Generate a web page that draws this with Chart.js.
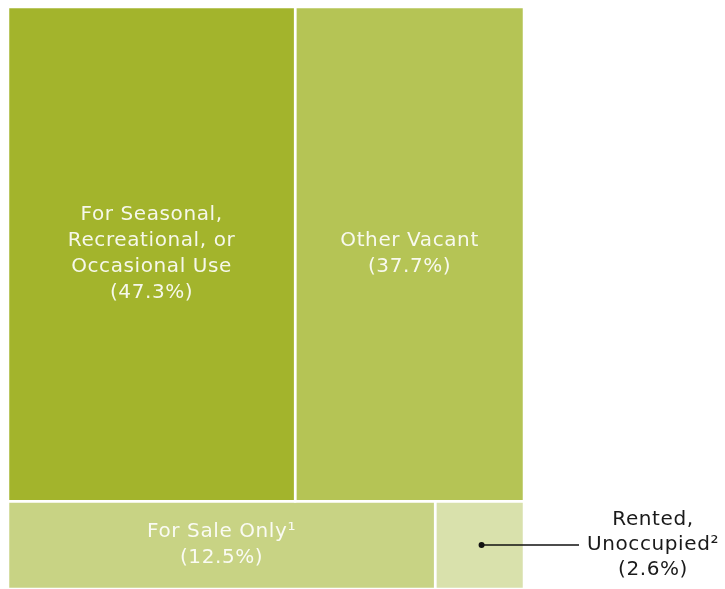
<!DOCTYPE html>
<html>
<head>
<meta charset="utf-8">
<script src="https://cdn.jsdelivr.net/npm/chart.js@4/dist/chart.umd.min.js"></script>
<style>
  body { margin: 0; background: #fff; }
  #wrap { width: 725px; height: 589px; }
</style>
</head>
<body>
<div id="wrap"><canvas id="treeChart" width="725" height="589"></canvas></div>
<script>
// Vacant housing units by status (share of total, %)
const categories = ['For Seasonal, Recreational, or Occasional Use', 'Other Vacant', 'For Sale Only¹', 'Rented, Unoccupied²'];
const shares = [47.3, 37.7, 12.5, 2.6];
const rowOf = [0, 0, 1, 1];   // which band of the treemap each cell sits in
const labelLines = [
  ['For Seasonal,', 'Recreational, or', 'Occasional Use', '(47.3%)'],
  ['Other Vacant', '(37.7%)'],
  ['For Sale Only¹', '(12.5%)'],
  ['Rented,', 'Unoccupied²', '(2.6%)']
];
const colors = ['#a3b42c', '#b5c455', '#c8d384', '#d9e1ac'];

// simple row layout: each row height ~ row total, each cell width ~ share within row
const total = shares.reduce((a, b) => a + b, 0);
const rowTotals = [];
shares.forEach((v, i) => { rowTotals[rowOf[i]] = (rowTotals[rowOf[i]] || 0) + v; });
const cells = [];
let yStart = 0;
rowTotals.forEach((rt, r) => {
  let xStart = 0;
  shares.forEach((v, i) => {
    if (rowOf[i] !== r) return;
    const w = v / rt * 100;
    cells.push({ i, x0: xStart, x1: xStart + w, y0: yStart, y1: yStart + rt });
    xStart += w;
  });
  yStart += rt;
});

const datasets = cells.map(c => ({
  label: categories[c.i],
  data: [
    { x: c.x0, y: c.y0 }, { x: c.x1, y: c.y0 }, { x: c.x1, y: c.y1 },
    { x: c.x0, y: c.y1 }, { x: c.x0, y: c.y0 }
  ],
  backgroundColor: colors[c.i],
  borderColor: '#ffffff',
  borderWidth: 2.5,
  fill: 'shape',
  pointRadius: 0,
  tension: 0
}));

const FONT = '20px "DejaVu Sans", sans-serif';
const LINE_H = 26;

const cellLabels = {
  id: 'cellLabels',
  afterDatasetsDraw(chart) {
    const { ctx, scales: { x, y }, chartArea } = chart;
    ctx.save();
    ctx.font = FONT;
    ctx.letterSpacing = '0.6px';
    ctx.textAlign = 'center';
    ctx.textBaseline = 'middle';
    cells.forEach(c => {
      const lines = labelLines[c.i];
      const cx = x.getPixelForValue((c.x0 + c.x1) / 2);
      const cy = y.getPixelForValue((c.y0 + c.y1) / 2);
      if (c.i === 3) {
        // too small: callout to the right
        const tx = chartArea.right + 129;
        ctx.strokeStyle = '#111';
        ctx.lineWidth = 1.5;
        ctx.beginPath();
        ctx.moveTo(cx + 2, cy);
        ctx.lineTo(chartArea.right + 55, cy);
        ctx.stroke();
        ctx.fillStyle = '#111';
        ctx.beginPath();
        ctx.arc(cx + 2, cy, 3, 0, Math.PI * 2);
        ctx.fill();
        ctx.fillStyle = '#1a1a1a';
        lines.forEach((t, k) => ctx.fillText(t, tx, cy + (k - 1) * 25));
        return;
      }
      ctx.fillStyle = 'rgba(255,255,255,0.9)';
      const top = cy - (lines.length - 1) * LINE_H / 2;
      lines.forEach((t, k) => ctx.fillText(t, cx, top + k * LINE_H));
    });
    ctx.restore();
  }
};

new Chart(document.getElementById('treeChart').getContext('2d'), {
  type: 'line',
  data: { datasets },
  options: {
    responsive: false,
    animation: false,
    layout: { padding: { left: 8, top: 7, right: 201, bottom: 0 } },
    scales: {
      x: { type: 'linear', min: 0, max: 100, display: false },
      y: { type: 'linear', min: 0, max: total, reverse: true, display: false }
    },
    plugins: { legend: { display: false }, tooltip: { enabled: false } }
  },
  plugins: [cellLabels]
});
</script>
</body>
</html>
